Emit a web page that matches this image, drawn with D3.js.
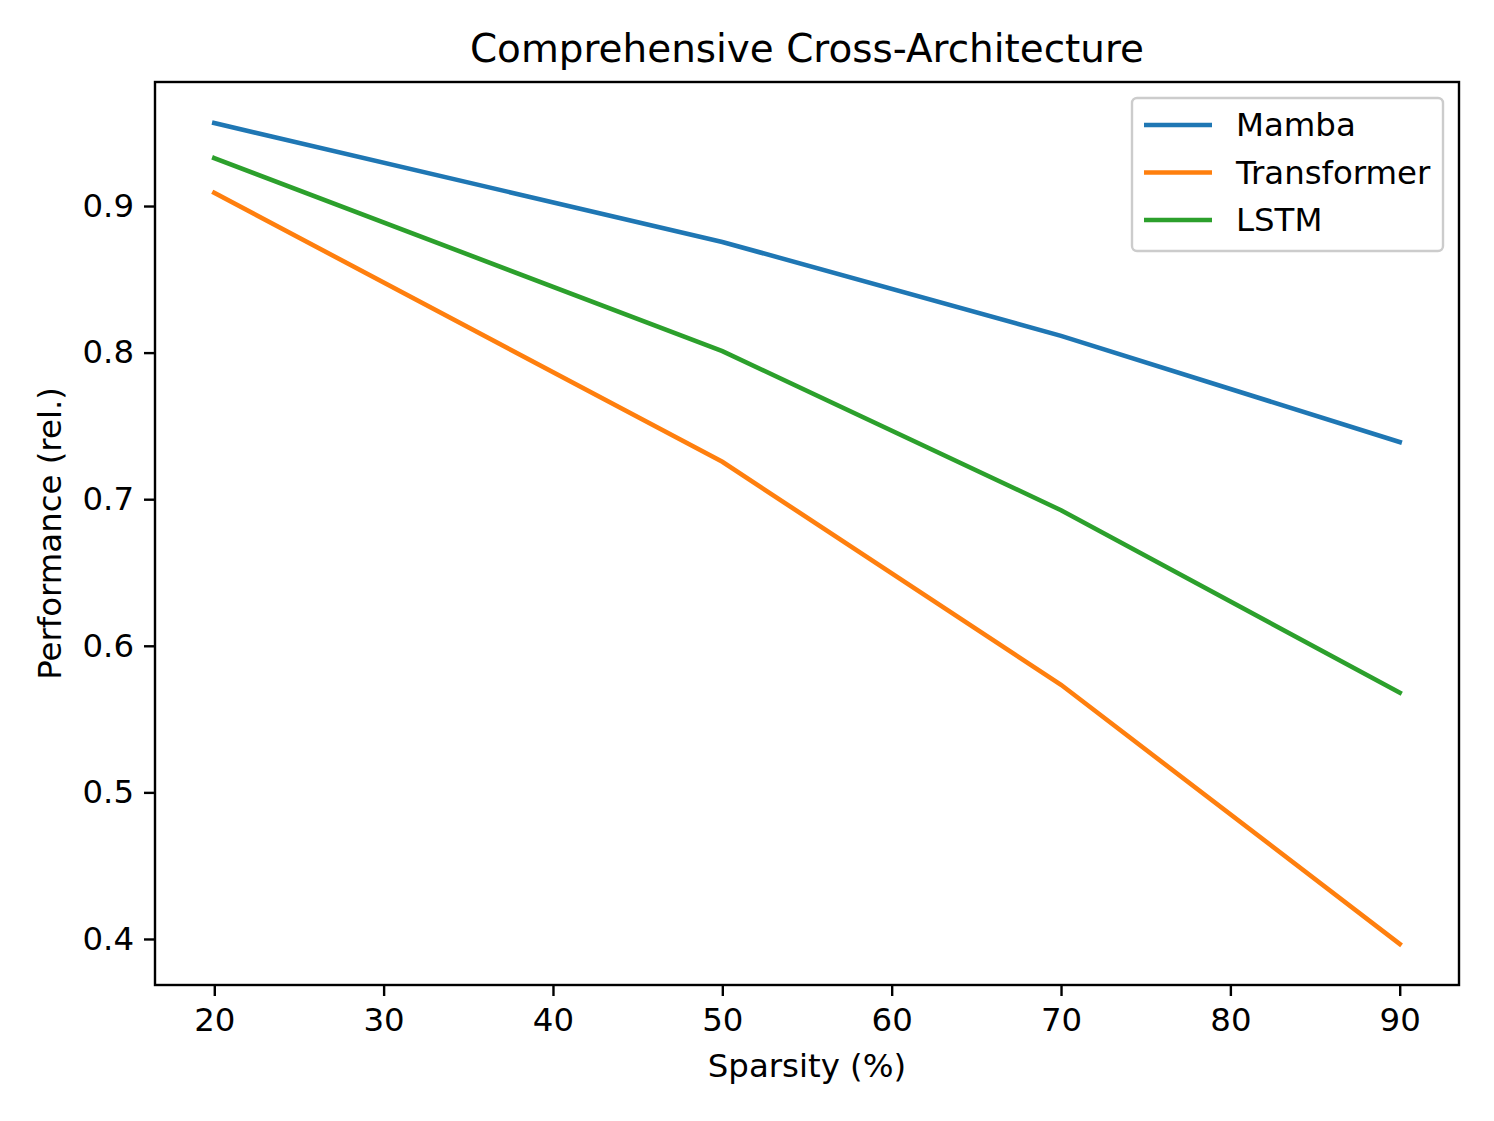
<!DOCTYPE html>
<html>
<head>
<meta charset="utf-8">
<script src="https://cdn.jsdelivr.net/npm/d3@7"></script>
<style>
  body { margin: 0; background: #fff; }
  text { font-family: "DejaVu Sans", sans-serif; fill: #000; }
</style>
</head>
<body>
<svg id="chart" width="1494" height="1121"></svg>
<script>
// data
var sparsity = [20, 50, 70, 90];
var mamba = [0.9566, 0.8755, 0.8114, 0.739];
var transformer = [0.909, 0.7255, 0.5734, 0.3966];
var lstm = [0.9327, 0.801, 0.6925, 0.568];
var seriesNames = ["Mamba", "Transformer", "LSTM"];
var seriesColors = ["#1f77b4", "#ff7f0e", "#2ca02c"];
var xTicks = [20, 30, 40, 50, 60, 70, 80, 90];
var yTicks = [0.4, 0.5, 0.6, 0.7, 0.8, 0.9];

var svg = d3.select("#chart");
var plotLeft = 155, plotRight = 1459, plotTop = 82, plotBottom = 985;

var series = [mamba, transformer, lstm].map(function(vals, i) {
  return {name: seriesNames[i], color: seriesColors[i],
          points: vals.map(function(v, j) { return {x: sparsity[j], y: v}; })};
});

// matplotlib-style 5% margins
var allY = d3.merge([mamba, transformer, lstm]);
var xr = d3.extent(sparsity), yr = d3.extent(allY);
var xm = (xr[1] - xr[0]) * 0.05, ym = (yr[1] - yr[0]) * 0.05;

var x = d3.scaleLinear().domain([xr[0] - xm, xr[1] + xm]).range([plotLeft, plotRight]);
var y = d3.scaleLinear().domain([yr[0] - ym, yr[1] + ym]).range([plotBottom, plotTop]);

var line = d3.line()
    .x(function(d) { return x(d.x); })
    .y(function(d) { return y(d.y); });

svg.selectAll(".series")
    .data(series)
  .enter().append("path")
    .attr("class", "series")
    .attr("d", function(d) { return line(d.points); })
    .attr("fill", "none")
    .attr("stroke", function(d) { return d.color; })
    .attr("stroke-width", 4.6)
    .attr("stroke-linecap", "square");

// axes
var xAxis = d3.axisBottom(x).tickValues(xTicks).tickSize(11).tickPadding(12)
    .tickFormat(d3.format("d"));
var yAxis = d3.axisLeft(y).tickValues(yTicks).tickSize(11).tickPadding(10)
    .tickFormat(d3.format(".1f"));

var gx = svg.append("g").attr("transform", "translate(0," + plotBottom + ")").call(xAxis);
var gy = svg.append("g").attr("transform", "translate(" + plotLeft + ",0)").call(yAxis);
[gx, gy].forEach(function(g) {
  g.select(".domain").remove();
  g.selectAll(".tick line").attr("stroke", "#000").attr("stroke-width", 2.4);
  g.selectAll(".tick text").attr("font-size", 32.4).style("font-family", "DejaVu Sans");
});

svg.append("rect")
    .attr("x", plotLeft).attr("y", plotTop)
    .attr("width", plotRight - plotLeft).attr("height", plotBottom - plotTop)
    .attr("fill", "none").attr("stroke", "#000").attr("stroke-width", 2.4);

// labels
svg.append("text")
    .attr("x", (plotLeft + plotRight) / 2).attr("y", 62)
    .attr("text-anchor", "middle").attr("font-size", 38.9)
    .text("Comprehensive Cross-Architecture");

svg.append("text")
    .attr("x", (plotLeft + plotRight) / 2).attr("y", 1077)
    .attr("text-anchor", "middle").attr("font-size", 32.4)
    .text("Sparsity (%)");

svg.append("text")
    .attr("transform", "translate(61," + ((plotTop + plotBottom) / 2) + ")rotate(-90)")
    .attr("text-anchor", "middle").attr("font-size", 32.4)
    .text("Performance (rel.)");

// legend
var legend = svg.append("g").attr("transform", "translate(1132,98)");
legend.append("rect")
    .attr("width", 311).attr("height", 153).attr("rx", 5)
    .attr("fill", "#fff").attr("fill-opacity", 0.8)
    .attr("stroke", "#ccc").attr("stroke-width", 2.4);

var item = legend.selectAll(".item")
    .data(series)
  .enter().append("g")
    .attr("class", "item")
    .attr("transform", function(d, i) { return "translate(0," + (27 + i * 47.5) + ")"; });

item.append("line")
    .attr("x1", 12).attr("x2", 80)
    .attr("stroke", function(d) { return d.color; })
    .attr("stroke-width", 4.6);

item.append("text")
    .attr("x", 104).attr("dy", "0.35em")
    .attr("font-size", 32.4)
    .text(function(d) { return d.name; });
</script>
</body>
</html>
